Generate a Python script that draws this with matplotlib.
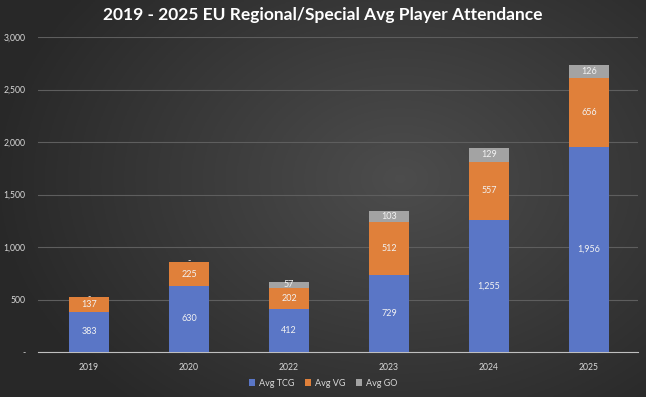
import numpy as np
import matplotlib.pyplot as plt
from matplotlib.ticker import FuncFormatter

years = ['2019', '2020', '2022', '2023', '2024', '2025']
avg_tcg = np.array([383, 630, 412, 729, 1255, 1956])
avg_vg = np.array([137, 225, 202, 512, 557, 656])
avg_go = np.array([0, 0, 57, 103, 129, 126])

plt.rcParams['font.family'] = ['Lato', 'DejaVu Sans']

fig = plt.figure(figsize=(6.46, 3.97), dpi=100)

# dark gradient background
bg = fig.add_axes([0, 0, 1, 1], zorder=-10)
xx, yy = np.meshgrid(np.linspace(0, 1, 300), np.linspace(0, 1, 200))
d = np.sqrt(((xx - 0.62) * 1.2) ** 2 + ((yy - 0.55) * 1.0) ** 2)
shade = 0.30 - 0.14 * np.clip(d / 0.75, 0, 1)
bg.imshow(np.dstack([shade] * 3), extent=[0, 1, 0, 1], aspect='auto', origin='lower')
bg.axis('off')

ax = fig.add_axes([38 / 646, 45 / 397, 600 / 646, 315 / 397])
ax.patch.set_alpha(0)
x = np.arange(len(years))
w = 0.4

c_tcg = '#5a76c6'
c_vg = '#e0803a'
c_go = '#a3a3a3'

b1 = ax.bar(x, avg_tcg, w, color=c_tcg, label='Avg TCG', zorder=3)
b2 = ax.bar(x, avg_vg, w, bottom=avg_tcg, color=c_vg, label='Avg VG', zorder=3)
b3 = ax.bar(x, avg_go, w, bottom=avg_tcg + avg_vg, color=c_go, label='Avg GO', zorder=3)

def fmt(v):
    return '-' if v == 0 else f'{v:,}'

lbl = dict(ha='center', va='center', color='#f2f2f2', fontsize=6.5, zorder=4)
for i in range(len(years)):
    ax.text(x[i], avg_tcg[i] / 2, fmt(avg_tcg[i]), **lbl)
    ax.text(x[i], avg_tcg[i] + avg_vg[i] / 2, fmt(avg_vg[i]), **lbl)
    top = avg_tcg[i] + avg_vg[i]
    if avg_go[i] == 0:
        ax.text(x[i], top + 12, '-', **lbl)
    else:
        ax.text(x[i], top + avg_go[i] / 2, fmt(avg_go[i]), **lbl)

ax.set_xlim(-0.51, 5.49)
ax.set_ylim(0, 3000)
ax.set_yticks(range(0, 3001, 500))
ax.yaxis.set_major_formatter(FuncFormatter(lambda v, p: '-' if v == 0 else f'{int(v):,}'))
ax.set_xticks(x)
ax.set_xticklabels(years)
ax.grid(axis='y', color='#5e5e5e', linewidth=0.8, zorder=0)
for s in ['top', 'right', 'left']:
    ax.spines[s].set_visible(False)
ax.spines['bottom'].set_color('#bfbfbf')
ax.tick_params(axis='both', length=0, colors='#d9d9d9', labelsize=6.2)
ax.tick_params(axis='x', pad=8)
ax.tick_params(axis='y', pad=9)

fig.text(0.5, 0.962, '2019 - 2025 EU Regional/Special Avg Player Attendance', ha='center', va='center',
         color='white', fontsize=12.5, fontweight='bold')
fig.legend(handles=[b1, b2, b3], loc='center', bbox_to_anchor=(0.5, 0.035), ncol=3, frameon=False,
           fontsize=6.5, labelcolor='#d9d9d9', handlelength=0.7, handleheight=0.7, handletextpad=0.4,
           columnspacing=1.2)

fig.savefig('out.png', dpi=100, facecolor='#333333')
